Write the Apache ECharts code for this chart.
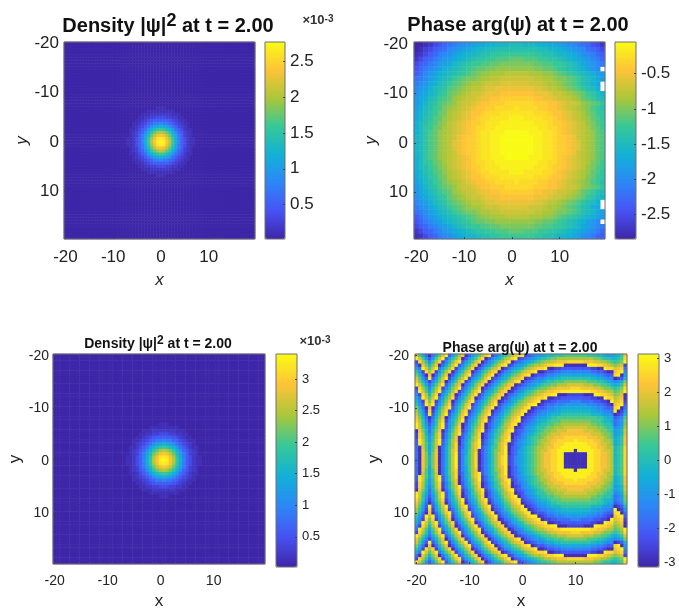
<!DOCTYPE html>
<html><head><meta charset="utf-8">
<script src="https://cdn.jsdelivr.net/npm/echarts@6/dist/echarts.min.js"></script>
<style>html,body{margin:0;background:#fff}#c{width:679px;height:611px}</style>
</head><body><div id="c"></div>
<script>
// Tick labels
const xTicks = ['-20','-10','0','10'];
const blobRowsHalf = [
"00000000001110000000000",
"00000001111111110000000",
"00000111222222211100000",
"00001122334443322110000",
"00011234566666543211000",
"00112346799a99764321100",
"00123468bdefedb86432100",
"0112468cfhjkjhfc8642110",
"012357bfjmpqpmjfb753210",
"012369dhmqtutqmhd963210",
"112469ejptxyxtpje964211",
"11246afkquyzyuqkfa64211"];
const density1Peak = 2.77, density3Peak = 3.4, densityFloor = 0.02;
// Panel 2 phase, 40x40 cells, 35 steps from -2.85 to -0.05, top half; the picture mirrors about the centre row.
const phase2Top = [
"001245789abcdeeffggghhhgggffeedcba987542",
"0134678abcdefgghhiiiiiiiiihhggfedcba8764",
"124679abdefgghiijjkkkkkkkjjiihggfedba976",
"24679acdefghijjkklllmmmlllkkjjihgfedca97",
"4679acdeghijkkllmmnnnnnnnmmllkkjihgedca9",
"579acdfghijklmmnnoooooooonnmmlkjihgfdca",
"68acdfghijklmnoopppqqqqqpppoonmlkjihgfdc",
"89bdeghiklmnnoppqqrrrrrrrqqpponnmlkihged",
"9bcefhiklmnoppqrrrssssssrrrqpponmlkihfe",
"acdfhijlmnopqqrssttttttttssrqqponmljihf",
"bdeghjkmnopqrrstttuuuuuuutttsrrqponmkjhg",
"cefhiklmopqrrsttuuvvvvvvvuuttsrrqpomlkih",
"cegijlmnoqrrstuuvvvwwwwwwvvvuutsrrqonmlji",
"dfhiklnopqrstuuvvwwwwxwwwwvvuutsrqponlki",
"eghjkmnpqrstuuvwwwxxxxxxxwwwvuutsrqpnmkj",
"egijlmopqrstuvwwxxxxyyyxxxxwwvutsrqpomlj",
"fhiklnoqrstuvvwxxxyyyyyyyxxxwvvutsrqonlk",
"fhjkmnpqrstuvwwxxyyyyyyyyyxxwwvutsrqpnmk",
"fhjlmopqrstuvwxxyyyzzzzzyyyxxwvutsrqpoml",
"ghjlmopqrtuvvwxxyyzzzzzzzyyxxwvvutrqpoml",
"ghjlmopqstuvvwxxyyzzzzzzzyyxxwvvutsqpoml"];
// Panel 4 phase, 64x64 cells, hex steps from +pi (0) down to -pi (f), rows from y=-20 to y=0;
// the rows below y=0 repeat them, as the picture does.
const phase4Top = [
"369cfc9630da742fda86420eca8754210edcbaa9887776666666777889aa9872",
"036ada630da752fda8631fdb9864310edcba987765544444444444556778"+"8761",
"e147b741eb8520da8631fdb975420fdcba987654433222111112223344567650",
"cf25852fc9630db8631fdb975310edba9865443211000fffffff00011234543e",
"9c03630c9641eb9641fdb86431feca9875432110ffeedddddddddeeff011321c",
"7ae141ea741fc9742fdb86421fdba87643210ffeddccbbbbbbbbbccddeff210b",
"58cf2fc852fda7520db96420fdb98654210feddcbbaa999999999aabbcdd10fa",
"36ad0da630eb8530eb97520edb9864321fedcbba99887777777778899abbfed8",
"258beb852fc9631ec97531fdb9764310fdcbaa987766655555556667789aba95",
"0369c9630da742fca8531fdb975421fedcba98766554443333344455667 89873".replace(' ',''),
"e147b741eb8530db8641fdb975421fecba98765543322221112222334556"+"7651",
"c0369630c9741ec97420eb986421fecba876544322110000000001122344"+"6540",
"be14841eb852fda8530eca86421fdcb987654321100fffeeeeefff001123543f",
"9c03630c9641eb9641fdb86431feca9875432110ffeedddddddddeeff011432f",
"8be151eb852fca7520db97531fecb986543210feeddccccbbbccccddeef0321e",
"7ad030da741eb8631eca86420ecb986543100fedccbbbaaaaaaabbbccdef210d",
"58cf2fc8520da7520db97420fdba8654310feddcbbaa999999999aabbcdd10fc",
"47ae1ea741ec9631eca8531fdca8754310fedcbbaa9988888888899aabbc0fea",
"369d0d9630da8520db96420ecb9764320fedcbaa98887777777778889aabfed8",
"258cfc852fc9741fca8531fdba865320fedcba9987766666666666677899adcb6".slice(0,60)+"dcb6",
"147beb741eb8630eb97420eca9754210edcba988766655555555566678 89cba5".replace(' ',''),
"037ada730da852fda8641fdba864310fdcba987766554444444445566778cba5",
"0369c9630da741fca7531fdb975421fedba98776554443333333444556 77ba94".replace(' ',''),
"f258c852fc9631ec97420eca865310edcba98765544333222223334455 67a983".replace(' ',''),
"e148b841eb8530db8641fdb976421fedba98765543332222222223334556a983",
"e147a741eb852fda8531fdb975320fdcba87665433222111111122233456"+"9872",
"d037a730da742fca7530eca865310edba987654432211111011111223445"+"9872",
"d0369630da741fc97420eca86421fecba987654332111000000011123345"+"9872",
"cf36963fc9641ec97420db976420fdcb98765443221100000000 01122344".replace(' ','')+"8761",
"cf26962fc9631eb9642fdb975420fdca9876543321100000f00000112334"+"8761",
"cf25952fc9630eb9641fdb975320fdca9876543221100fffffff00112234"+"8761",
"cf25852fc9630eb8641fdb975310edba9876543221100fffffff00112234"+"8761",
"cf25852fc9630eb8641fdb975310edba9876543221100fffffff00112234"+"8761"];
// Colour bar ticks
const cb1Ticks=[0.5,1,1.5,2,2.5], cb2Ticks=[-2.5,-2,-1.5,-1,-0.5], cb3Ticks=[0.5,1,1.5,2,2.5,3], cb4Ticks=[-3,-2,-1,0,1,2,3];

const parula=['#3e26a8','#4752f4','#2d87f7','#12b1d6','#37c897','#abc739','#fec338','#f9fb14'];
const font='"Liberation Sans", Arial, sans-serif';

function densityCells(peak,startCol,startRow){
  const rows=blobRowsHalf.concat(blobRowsHalf.slice(0,-1).reverse()),out=[];
  for(let r=0;r<64;r++)for(let c=0;c<64;c++){
    const ch=(rows[r-startRow]||'')[c-startCol];
    const lvl=ch?parseInt(ch,36):0;
    out.push([c,r,densityFloor+lvl/35*(peak-densityFloor)]);
  }
  return out;
}
const p2=phase2Top.concat(phase2Top.slice(2).reverse()), p4=phase4Top.concat(phase4Top.slice(1,32).reverse());
const cells2=[];p2.forEach((s,r)=>{for(let c=0;c<40;c++){const ch=s[c];if(ch)cells2.push([c,r,-2.85+parseInt(ch,36)/35*2.8]);}});
const cells4=[];p4.forEach((s,r)=>{for(let c=0;c<64;c++){const ch=s[c];if(ch)cells4.push([c,r,Math.PI-(parseInt(ch,16)+0.5)*2*Math.PI/16]);}});

const panels=[
 {g:[64,42,191,197],cb:[265,42,20,197],n:64,cells:densityCells(density1Peak,21,21),min:.02,max:2.77,ticks:cb1Ticks,fs:17,cfs:17,name:{fontStyle:'italic'},ng:[33,30],m:[10,5]},
 {g:[414,42,191,197],cb:[615,42,21,197],n:40,cells:cells2,min:-2.85,max:-0.05,ticks:cb2Ticks,fs:17,cfs:17,name:{fontStyle:'italic'},ng:[33,30],m:[10,6]},
 {g:[53,354,212,212],cb:[276,354,21,213],n:64,cells:densityCells(density3Peak,22,21),min:.02,max:3.4,ticks:cb3Ticks,fs:14,cfs:13,name:{},ng:[29,29],m:[10,4]},
 {g:[415,354,212,212],cb:[638,354,21,213],n:64,cells:cells4,min:-3.14,max:3.14,ticks:cb4Ticks,fs:14,cfs:13,name:{},ng:[29,29],m:[10,6]}
];
const grid=[],xAxis=[],yAxis=[],series=[],visualMap=[];
const frame={show:true,backgroundColor:'transparent',borderColor:'#6e6e6e',borderWidth:1,z:5,containLabel:false};
panels.forEach((p,i)=>{
  const step=p.n/4;
  const cats=Array.from({length:p.n},(_,k)=>k%step===0?xTicks[k/step]:'');
  grid.push({...frame,left:p.g[0],top:p.g[1],width:p.g[2],height:p.g[3]});
  const base={type:'category',data:cats,z:6,axisLine:{show:false,onZero:false},
    axisTick:{show:true,inside:true,length:2,alignWithLabel:true,interval:step-1,lineStyle:{color:'#444'}},splitLine:{show:false}};
  xAxis.push({...base,gridIndex:i*2,name:'x',nameLocation:'middle',nameGap:p.ng[0],
    nameTextStyle:{fontFamily:font,fontSize:p.fs+(i<2?0:3),color:'#222',...p.name},
    axisLabel:{interval:step-1,fontFamily:font,fontSize:p.fs,color:'#222',margin:p.m[0]}});
  yAxis.push({...base,gridIndex:i*2,inverse:true,name:'y',nameLocation:'middle',nameGap:p.ng[1]+(i===3?3:0),
    nameTextStyle:{fontFamily:font,fontSize:p.fs+(i<2?0:3),color:'#222',...p.name},
    axisLabel:{interval:step-1,fontFamily:font,fontSize:p.fs,color:'#222',margin:p.m[1]}});
  series.push({type:'heatmap',xAxisIndex:i*2,yAxisIndex:i*2,data:p.cells,z:2,progressive:0,itemStyle:{borderWidth:0},emphasis:{disabled:true},silent:true});
  // colour bar frame, ticks and labels
  grid.push({...frame,left:p.cb[0],top:p.cb[1],width:p.cb[2],height:p.cb[3]});
  xAxis.push({type:'category',data:[''],gridIndex:i*2+1,show:false});
  yAxis.push({type:'value',gridIndex:i*2+1,position:'right',min:p.min,max:p.max,z:6,splitLine:{show:false},axisLine:{show:false},
    axisTick:{show:true,inside:true,length:2,customValues:p.ticks,lineStyle:{color:'#444'}},
    axisLabel:{customValues:p.ticks,fontFamily:font,fontSize:p.cfs,color:'#222',margin:5,formatter:v=>String(v)}});
  visualMap.push({type:'continuous',seriesIndex:series.length-1,dimension:2,min:p.min,max:p.max,calculable:false,hoverLink:false,
    left:p.cb[0],top:p.cb[1],itemWidth:p.cb[2],itemHeight:p.cb[3],padding:0,text:null,inRange:{color:parula}});
});
const bold=(s,sup)=>({fontFamily:font,fontWeight:'bold',fontSize:s,color:'#111',lineHeight:sup?26:24});
const title=[
 {text:'{a|Density |ψ|}{s|2}{a| at t = 2.00}',left:168,top:12,textAlign:'center',textStyle:{rich:{a:{...bold(20),verticalAlign:'bottom'},s:{...bold(18),verticalAlign:'top',lineHeight:20}}}},
 {text:'Phase arg(ψ) at t = 2.00',left:518,top:13,textAlign:'center',textStyle:bold(20)},
 {text:'{a|Density |ψ|}{s|2}{a| at t = 2.00}',left:158,top:335,textAlign:'center',textStyle:{rich:{a:{...bold(14),lineHeight:16,verticalAlign:'bottom'},s:{...bold(12),verticalAlign:'top',lineHeight:14}}}},
 {text:'Phase arg(ψ) at t = 2.00',left:520,top:336,textAlign:'center',textStyle:bold(14)},
 {text:'{a|×10}{s|-3}',left:318,top:14,textAlign:'center',textStyle:{rich:{a:{fontFamily:font,fontSize:13,color:'#333',verticalAlign:'bottom'},s:{fontFamily:font,fontSize:10,color:'#333',verticalAlign:'top'}}}},
 {text:'{a|×10}{s|-3}',left:315,top:335,textAlign:'center',textStyle:{rich:{a:{fontFamily:font,fontSize:13,color:'#333',verticalAlign:'bottom'},s:{fontFamily:font,fontSize:10,color:'#333',verticalAlign:'top'}}}}
];
title.forEach(t=>{t.padding=0;});
const chart=echarts.init(document.getElementById('c'),null,{renderer:'canvas'});
chart.setOption({animation:false,backgroundColor:'#fff',title,grid,xAxis,yAxis,visualMap,series});
</script></body></html>
